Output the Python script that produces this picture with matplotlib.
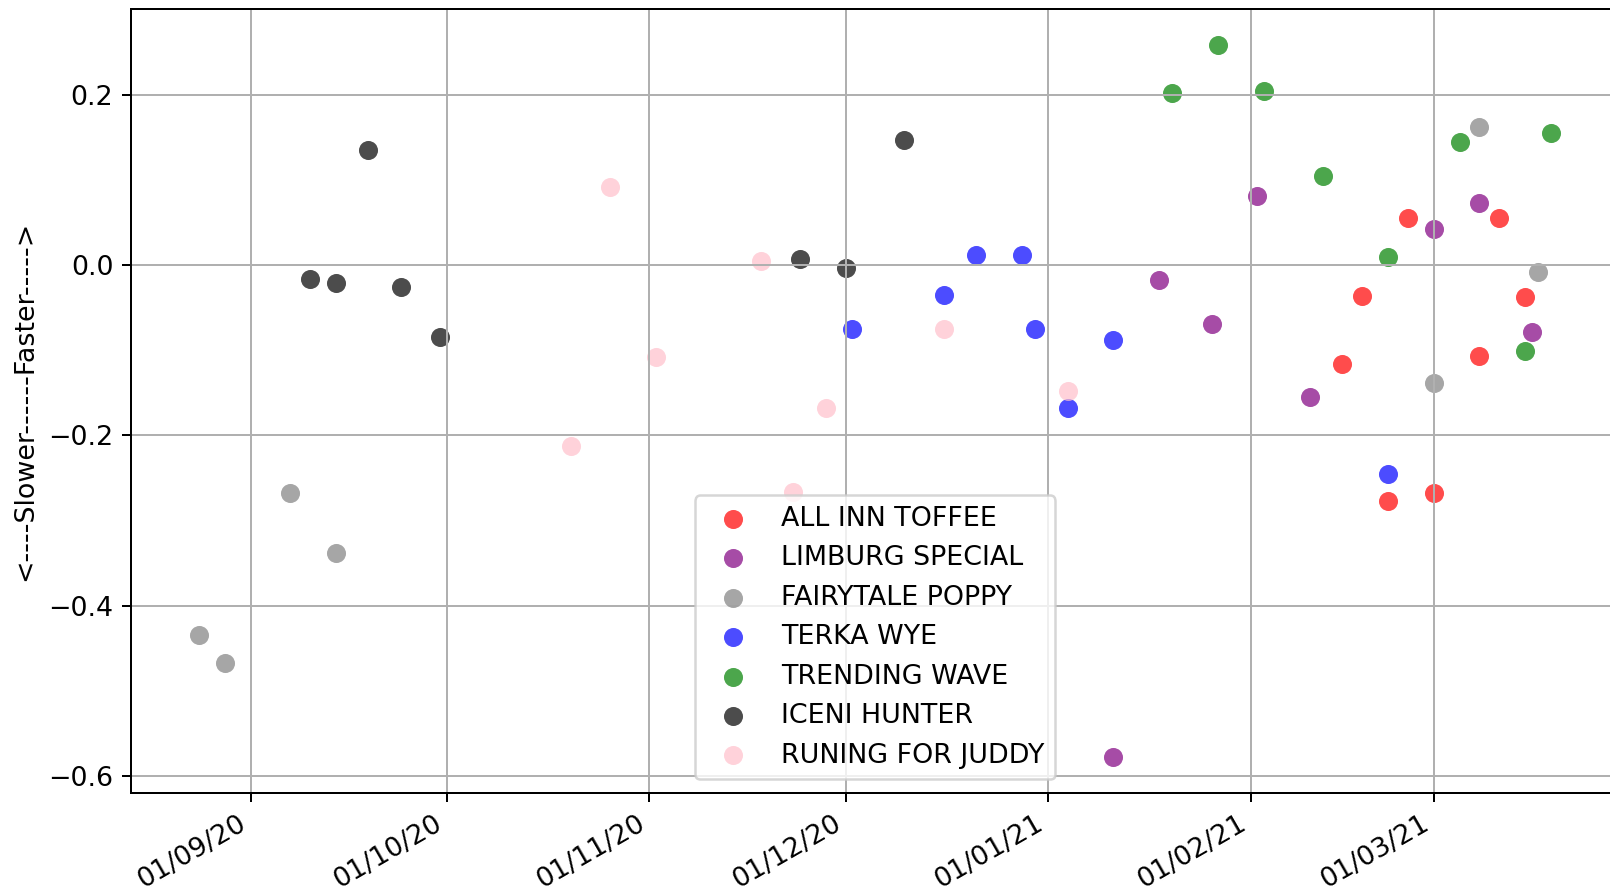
import matplotlib
matplotlib.use("Agg")
import matplotlib.pyplot as plt
import matplotlib.dates as mdates
import pandas as pd

horses = ["ALL INN TOFFEE", "LIMBURG SPECIAL", "FAIRYTALE POPPY", "TERKA WYE",
          "TRENDING WAVE", "ICENI HUNTER", "RUNING FOR JUDDY"]
colours = ["red", "purple", "gray", "blue", "green", "black", "pink"]

toffee_dates = ["2021-02-15", "2021-02-18", "2021-02-22", "2021-02-25", "2021-03-01",
                "2021-03-08", "2021-03-11", "2021-03-15"]
toffee_vals = [-0.116, -0.036, -0.277, 0.055, -0.268, -0.107, 0.055, -0.038]

limburg_dates = ["2021-01-11", "2021-01-18", "2021-01-26", "2021-02-02", "2021-02-10",
                 "2021-03-01", "2021-03-08", "2021-03-16"]
limburg_vals = [-0.578, -0.018, -0.069, 0.081, -0.155, 0.042, 0.073, -0.079]

poppy_dates = ["2020-08-24", "2020-08-28", "2020-09-07", "2020-09-14", "2021-03-01",
               "2021-03-08", "2021-03-17"]
poppy_vals = [-0.435, -0.468, -0.268, -0.338, -0.138, 0.162, -0.008]

terka_dates = ["2020-12-02", "2020-12-16", "2020-12-21", "2020-12-28", "2020-12-30",
               "2021-01-04", "2021-01-11", "2021-02-22"]
terka_vals = [-0.075, -0.035, 0.012, 0.012, -0.075, -0.168, -0.088, -0.246]

trending_dates = ["2021-01-20", "2021-01-27", "2021-02-03", "2021-02-12", "2021-02-22",
                  "2021-03-05", "2021-03-15", "2021-03-19"]
trending_vals = [0.202, 0.259, 0.205, 0.105, 0.009, 0.145, -0.101, 0.155]

iceni_dates = ["2020-09-10", "2020-09-14", "2020-09-19", "2020-09-24", "2020-09-30",
               "2020-11-24", "2020-12-01", "2020-12-10"]
iceni_vals = [-0.016, -0.021, 0.135, -0.026, -0.085, 0.007, -0.003, 0.147]

judy_dates = ["2020-10-20", "2020-10-26", "2020-11-02", "2020-11-18", "2020-11-23",
              "2020-11-28", "2020-12-16", "2021-01-04"]
judy_vals = [-0.213, 0.092, -0.108, 0.005, -0.267, -0.168, -0.075, -0.148]

all_dates = [toffee_dates, limburg_dates, poppy_dates, terka_dates,
             trending_dates, iceni_dates, judy_dates]
all_vals = [toffee_vals, limburg_vals, poppy_vals, terka_vals,
            trending_vals, iceni_vals, judy_vals]

plt.rcParams["font.size"] = 10.75

fig = plt.figure(figsize=(1610 / 180, 890 / 180), dpi=180)
# axes runs a little past the right edge, as in the original crop
ax = fig.add_axes([0.0813, 0.1093, 0.9243, 0.8806])

for name, col, d, v in zip(horses, colours, all_dates, all_vals):
    ax.scatter(pd.to_datetime(d), v, color=col, alpha=0.7, s=58,
               linewidths=0, label=name)

ax.grid(True)
ax.set_ylabel("<----Slower------Faster----->")
ax.xaxis.set_major_locator(mdates.MonthLocator())
ax.xaxis.set_major_formatter(mdates.DateFormatter("%d/%m/%y"))
for lbl in ax.get_xticklabels():
    lbl.set_rotation(30)
    lbl.set_ha("right")
ax.legend(loc="lower center")

fig.savefig("out.png", dpi=180)
